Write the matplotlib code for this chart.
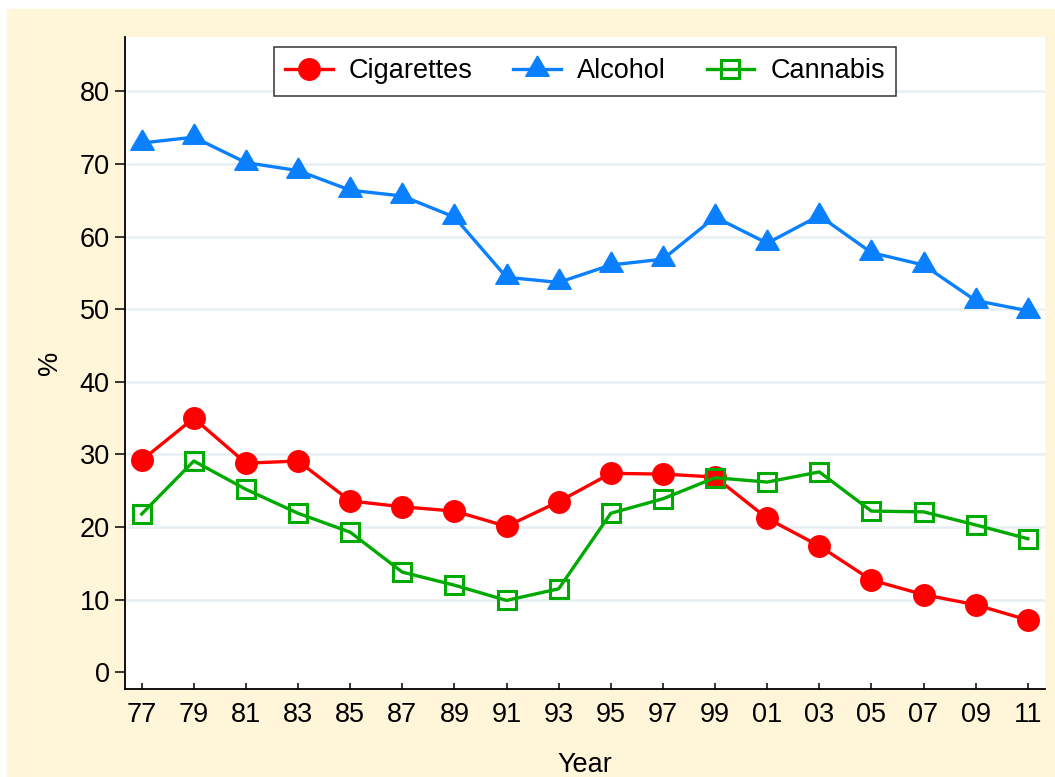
import matplotlib
matplotlib.use("Agg")
import matplotlib.pyplot as plt
from matplotlib.patches import Rectangle

plt.rcParams["font.family"] = ["Liberation Sans", "DejaVu Sans"]

# ---- data ----
YEARS = ["77", "79", "81", "83", "85", "87", "89", "91", "93",
         "95", "97", "99", "01", "03", "05", "07", "09", "11"]
CIGARETTES = [29.2, 35.0, 28.8, 29.1, 23.6, 22.8, 22.2, 20.1, 23.5,
              27.4, 27.3, 26.9, 21.2, 17.4, 12.7, 10.7, 9.3, 7.2]
ALCOHOL = [72.9, 73.7, 70.2, 69.1, 66.4, 65.6, 62.7, 54.4, 53.7,
           56.1, 56.9, 62.7, 59.1, 62.9, 57.8, 56.1, 51.2, 49.8]
CANNABIS = [21.8, 29.1, 25.2, 21.9, 19.3, 13.8, 12.0, 9.9, 11.5,
            21.9, 23.9, 26.8, 26.2, 27.6, 22.2, 22.1, 20.3, 18.4]
Y_TICKS = [0, 10, 20, 30, 40, 50, 60, 70, 80]

BG = "#FFF6DA"
RED = "#FF0000"
BLUE = "#0A80FF"
GREEN = "#00AA00"
GRID = "#E8EFF2"
FS = 19.5

W, H = 1055, 777
fig = plt.figure(figsize=(W / 100, H / 100), dpi=100, facecolor="white")
# cream graph region (white strips remain at top and left)
fig.patches.append(Rectangle((7 / W, 0), 1 - 7 / W, 1 - 9 / H,
                             transform=fig.transFigure, color=BG, zorder=-10))

ax = fig.add_axes([125 / W, (H - 689) / H, (1045 - 125) / W, (689 - 37) / H])
ax.set_facecolor("white")

x = list(range(len(YEARS)))

# equilateral triangle centred on its centroid
tri = [(0, 1.155), (-1, -0.577), (1, -0.577), (0, 1.155)]

ax.plot(x, CIGARETTES, color=RED, lw=2.4, marker="o", ms=15.5,
        mfc=RED, mec=RED, label="Cigarettes", zorder=3)
ax.plot(x, ALCOHOL, color=BLUE, lw=2.4, marker=tri, ms=19.5,
        mfc=BLUE, mec=BLUE, label="Alcohol", zorder=3)
ax.plot(x, CANNABIS, color=GREEN, lw=2.4, marker="s", ms=13.5,
        mfc="none", mec=GREEN, mew=2.2, label="Cannabis", zorder=3)

ax.set_xlim(-0.32, 17.33)
ax.set_ylim(-2.3, 87.5)

ax.set_xticks(x)
ax.set_xticklabels(YEARS)
ax.set_yticks(Y_TICKS)
ax.set_yticklabels([str(v) for v in Y_TICKS])

ax.tick_params(axis="x", direction="in", length=4.3, width=1.1,
               labelsize=FS, pad=9.5)
ax.tick_params(axis="y", direction="out", length=7, width=1.1,
               labelsize=FS, pad=4)

ax.yaxis.grid(True, color=GRID, lw=1.8, zorder=0)
ax.set_axisbelow(True)
ax.yaxis.get_gridlines()[0].set_visible(False)

for side in ("top", "right"):
    ax.spines[side].set_visible(False)
for side in ("left", "bottom"):
    ax.spines[side].set_linewidth(1.3)
    ax.spines[side].set_color("black")

ax.set_ylabel("%", fontsize=FS, labelpad=12)
ax.set_xlabel("Year", fontsize=FS, labelpad=17.5)

leg = ax.legend(loc="upper center", bbox_to_anchor=(0.5, 0.985), ncol=3,
                fontsize=FS, frameon=True, fancybox=False,
                handlelength=1.75, handletextpad=0.6, columnspacing=1.5,
                borderpad=0.42, borderaxespad=0)
leg.get_frame().set_edgecolor("black")
leg.get_frame().set_linewidth(1.1)

fig.savefig("out.png", dpi=100, facecolor=fig.get_facecolor())
